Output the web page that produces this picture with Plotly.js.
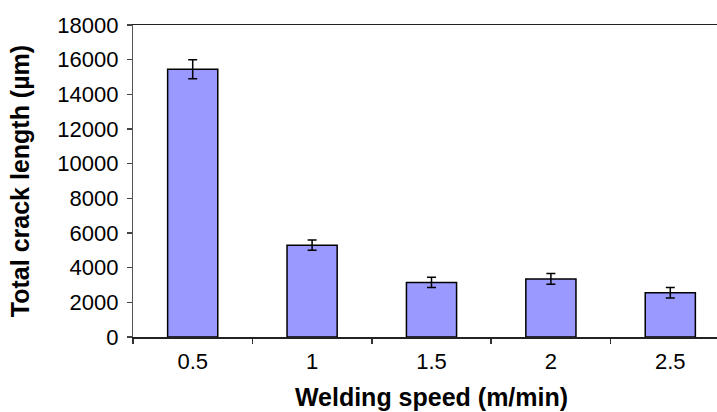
<!DOCTYPE html>
<html>
<head>
<meta charset="utf-8">
<script src="https://cdn.plot.ly/plotly-3.0.1.min.js"></script>
<style>
  html, body { margin: 0; padding: 0; background: #fff; overflow: hidden; }
  #chart { width: 740px; height: 412px; }
</style>
</head>
<body>
<div id="chart"></div>
<script>
// Welding speed categories (m/min)
const speeds = ['0.5', '1', '1.5', '2', '2.5'];
// Mean total crack length (µm) per speed
const crackLength = [15450, 5300, 3150, 3350, 2550];
// Error bar half-lengths (µm)
const crackError = [550, 300, 290, 310, 300];
// Y-axis ticks
const yTicks = [0, 2000, 4000, 6000, 8000, 10000, 12000, 14000, 16000, 18000];

const trace = {
  type: 'bar',
  x: speeds,
  y: crackLength,
  marker: { color: '#9999ff', line: { color: '#000000', width: 1.5 } },
  error_y: { type: 'data', array: crackError, visible: true, color: '#000000', thickness: 1.5, width: 4.5 },
  hoverinfo: 'skip'
};

const font = 'Liberation Sans, Arial, sans-serif';

const layout = {
  width: 740,
  height: 412,
  margin: { l: 133, r: 10, t: 25, b: 75 },
  paper_bgcolor: '#ffffff',
  plot_bgcolor: '#ffffff',
  showlegend: false,
  bargap: 0.58,
  font: { family: font, color: '#000000' },
  xaxis: {
    type: 'category',
    tickson: 'boundaries',
    ticks: 'outside',
    ticklen: 5,
    tickwidth: 1.5,
    tickcolor: '#333333',
    ticklabelstandoff: 4,
    showline: true,
    linecolor: '#222222',
    linewidth: 1.5,
    mirror: true,
    showgrid: false,
    zeroline: false,
    tickfont: { family: font, size: 22, color: '#000000' },
    title: { text: 'Welding speed (m/min)', font: { family: font, size: 25, color: '#000000', weight: 'bold' }, standoff: 15 }
  },
  yaxis: {
    range: [0, 18000],
    tickvals: yTicks,
    ticktext: yTicks.map(String),
    ticks: 'outside',
    ticklen: 5,
    tickwidth: 1.2,
    tickcolor: '#444444',
    ticklabelstandoff: 4,
    showline: true,
    linecolor: '#555555',
    linewidth: 1.2,
    showgrid: false,
    zeroline: false,
    tickfont: { family: font, size: 22, color: '#000000' },
    title: { text: 'Total crack length (µm)', font: { family: font, size: 25, color: '#000000', weight: 'bold' }, standoff: 20 }
  }
};

Plotly.newPlot('chart', [trace], layout, { staticPlot: true, displayModeBar: false });
</script>
</body>
</html>
